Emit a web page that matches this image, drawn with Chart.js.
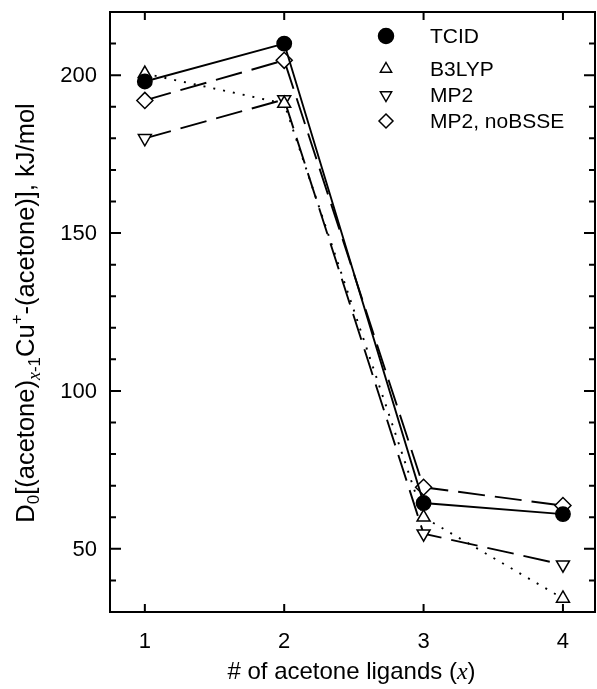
<!DOCTYPE html>
<html>
<head>
<meta charset="utf-8">
<script src="https://cdn.jsdelivr.net/npm/chart.js@4.4.1/dist/chart.umd.min.js"></script>
<style>
  html, body { margin: 0; padding: 0; background: #fff; }
  canvas { display: block; }
</style>
</head>
<body>
<canvas id="bindingGraph" width="597" height="689"></canvas>
<script>
// number of acetone ligands
const ligands = [1, 2, 3, 4];

// sequential bond energies, kJ/mol
const tcid = [198, 210, 64.5, 61];
const b3lyp = [200.5, 191, 60, 34.3];
const mp2 = [180, 192.3, 54.8, 45];
const mp2NoBsse = [192, 204.7, 69.5, 63.7];

const seriesNames = ['TCID', 'B3LYP', 'MP2', 'MP2, noBSSE'];
const xTickValues = [1, 2, 3, 4];
const yTickValues = [50, 100, 150, 200];

const FONT = 'Arial, "Liberation Sans", sans-serif';
const SERIF = '"Liberation Serif", "Times New Roman", serif';

function points(ys) {
    return ligands.map((x, i) => ({ x: x, y: ys[i] }));
}

const markers = [
    { style: 'circle', rotation: 0, fill: '#000', radius: 7.2, legendRadius: 7.5 },
    { style: 'triangle', rotation: 0, fill: '#fff', radius: 7.5, legendRadius: 6.5 },
    { style: 'triangle', rotation: 180, fill: '#fff', radius: 7.5, legendRadius: 6.5 },
    { style: 'rectRot', rotation: 0, fill: '#fff', radius: 8, legendRadius: 7 }
];
const dashes = [[], [2, 8], [27, 10], [27, 10]];
const allSeries = [tcid, b3lyp, mp2, mp2NoBsse];

const datasets = allSeries.map((ys, i) => ({
    label: seriesNames[i],
    data: points(ys),
    showLine: true,
    borderColor: '#000',
    borderWidth: 1.9,
    borderDash: dashes[i],
    backgroundColor: markers[i].fill,
    pointStyle: markers[i].style,
    pointRotation: markers[i].rotation,
    pointRadius: markers[i].radius,
    pointHoverRadius: markers[i].radius,
    pointBackgroundColor: markers[i].fill,
    pointBorderColor: '#000',
    pointBorderWidth: 1.5
}));

// box, inward ticks on all four sides, tick labels
const frame = {
    id: 'frame',
    afterDraw(chart) {
        const { ctx, chartArea: a, scales } = chart;
        const xs = scales.x, ys = scales.y;
        ctx.save();
        ctx.strokeStyle = '#000';
        ctx.lineWidth = 2;
        ctx.strokeRect(a.left, a.top, a.right - a.left, a.bottom - a.top);
        ctx.beginPath();
        for (let v = 40; v < 220; v += 10) {
            const y = ys.getPixelForValue(v);
            const len = v % 50 === 0 ? 11 : 6;
            ctx.moveTo(a.left, y); ctx.lineTo(a.left + len, y);
            ctx.moveTo(a.right, y); ctx.lineTo(a.right - len, y);
        }
        xTickValues.forEach(v => {
            const x = xs.getPixelForValue(v);
            ctx.moveTo(x, a.bottom); ctx.lineTo(x, a.bottom - 8);
            ctx.moveTo(x, a.top); ctx.lineTo(x, a.top + 8);
        });
        ctx.stroke();

        ctx.fillStyle = '#000';
        ctx.font = '22px ' + FONT;
        ctx.textBaseline = 'middle';
        ctx.textAlign = 'right';
        yTickValues.forEach(v => {
            ctx.fillText(String(v), a.left - 13, ys.getPixelForValue(v) + 1);
        });
        ctx.textAlign = 'center';
        xTickValues.forEach(v => {
            ctx.fillText(String(v), xs.getPixelForValue(v), a.bottom + 30);
        });
        ctx.restore();
    }
};

function drawMarker(ctx, m, x, y, r) {
    ctx.beginPath();
    if (m.style === 'circle') {
        ctx.arc(x, y, r, 0, Math.PI * 2);
    } else if (m.style === 'triangle') {
        const s = m.rotation ? -1 : 1;
        ctx.moveTo(x, y - s * r);
        ctx.lineTo(x + r * 0.866, y + s * r * 0.5);
        ctx.lineTo(x - r * 0.866, y + s * r * 0.5);
        ctx.closePath();
    } else {
        ctx.moveTo(x, y - r);
        ctx.lineTo(x + r, y);
        ctx.lineTo(x, y + r);
        ctx.lineTo(x - r, y);
        ctx.closePath();
    }
    ctx.fillStyle = m.fill;
    ctx.fill();
    ctx.lineWidth = 1.5;
    ctx.strokeStyle = '#000';
    ctx.stroke();
}

// legend: marker only, inside the plot, top right
const legendRows = [36, 69, 95, 121];
const markerLegend = {
    id: 'markerLegend',
    afterDraw(chart) {
        const ctx = chart.ctx;
        ctx.save();
        ctx.font = '21px ' + FONT;
        ctx.textBaseline = 'middle';
        ctx.textAlign = 'left';
        seriesNames.forEach((name, i) => {
            const y = legendRows[i];
            drawMarker(ctx, markers[i], 386, y, markers[i].legendRadius);
            ctx.fillStyle = '#000';
            ctx.fillText(name, 430, y + 1);
        });
        ctx.restore();
    }
};

// draws a run of [text, font, dy] pieces centred on 0
function drawRuns(ctx, runs) {
    let total = 0;
    runs.forEach(r => { ctx.font = r[1]; total += ctx.measureText(r[0]).width; });
    let x = -total / 2;
    runs.forEach(r => {
        ctx.font = r[1];
        ctx.fillText(r[0], x, r[2]);
        x += ctx.measureText(r[0]).width;
    });
}

const axisTitles = {
    id: 'axisTitles',
    afterDraw(chart) {
        const { ctx, chartArea: a } = chart;
        const big = '24px ' + FONT;
        const yBig = '25.5px ' + FONT;
        const small = '17px ' + FONT;
        const smallItalic = 'italic 18px ' + SERIF;
        ctx.save();
        ctx.fillStyle = '#000';
        ctx.textBaseline = 'alphabetic';
        ctx.textAlign = 'left';

        ctx.save();
        ctx.translate(34, (a.top + a.bottom) / 2 + 1);
        ctx.rotate(-Math.PI / 2);
        drawRuns(ctx, [
            ['D', yBig, 0],
            ['0', small, 5],
            ['[(acetone)', yBig, 0],
            ['x', smallItalic, 6],
            ['-1', small, 6],
            ['Cu', yBig, 0],
            ['+', small, -12],
            ['-(acetone)], kJ/mol', yBig, 0]
        ]);
        ctx.restore();

        ctx.save();
        ctx.translate((a.left + a.right) / 2 - 1, 679);
        drawRuns(ctx, [
            ['# of acetone ligands (', big, 0],
            ['x', 'italic 24px ' + SERIF, 0],
            [')', big, 0]
        ]);
        ctx.restore();
        ctx.restore();
    }
};

new Chart(document.getElementById('bindingGraph').getContext('2d'), {
    type: 'scatter',
    data: { datasets: datasets },
    options: {
        responsive: false,
        animation: false,
        layout: {
            autoPadding: false,
            padding: { top: 12, right: 2, left: 0, bottom: 0 }
        },
        scales: {
            x: {
                type: 'linear',
                min: 0.75,
                max: 4.23,
                grid: { display: false },
                border: { display: false },
                ticks: { display: false },
                afterFit: s => {
                    s.height = 77;
                    s.paddingLeft = 0;
                    s.paddingRight = 0;
                }
            },
            y: {
                type: 'linear',
                min: 30,
                max: 220,
                grid: { display: false },
                border: { display: false },
                ticks: { display: false },
                afterFit: s => {
                    s.width = 110;
                    s.paddingTop = 0;
                    s.paddingBottom = 0;
                }
            }
        },
        plugins: {
            legend: { display: false },
            tooltip: { enabled: false }
        }
    },
    plugins: [frame, markerLegend, axisTitles]
});
</script>
</body>
</html>
